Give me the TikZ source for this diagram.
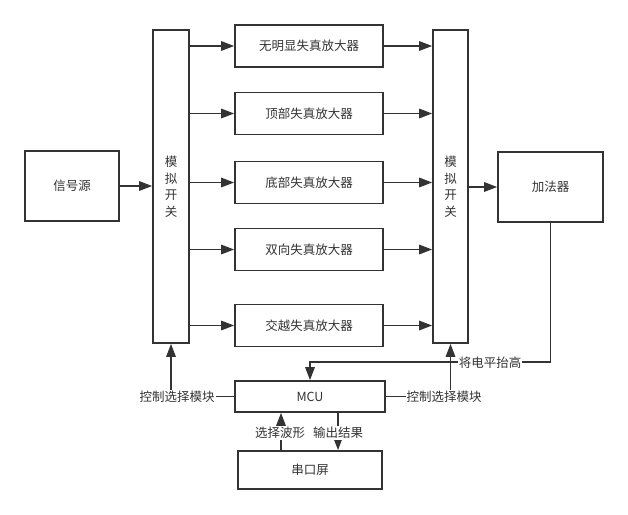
\documentclass[tikz,border=0pt]{standalone}
\usepackage{fontspec}
\setmainfont{Noto Sans CJK SC}
\usetikzlibrary{arrows.meta,calc}
\definecolor{ln}{HTML}{333333}
\begin{document}
\begin{tikzpicture}[x=1pt,y=-1pt,
  font=\fontsize{12.5pt}{16.5pt}\selectfont,
  box/.style={draw=ln,line width=1.7pt,text=ln,inner sep=0pt,anchor=center},
  arr/.style={draw=ln,line width=1.5pt,-{Triangle[length=13pt,width=9.5pt]}},
  lbl/.style={fill=white,text=ln,inner sep=1pt}]
\useasboundingbox (0,0) rectangle (628,514);
\node[box,minimum width=94pt,minimum height=70pt] (src) at (72,186) {信号源};
\node[box,minimum width=36pt,minimum height=313pt,align=center] (sw1) at (171,186.5) {模\\拟\\开\\关};
\node[box,minimum width=35pt,minimum height=313pt,align=center] (sw2) at (450.5,186.5) {模\\拟\\开\\关};
\node[box,minimum width=148pt,minimum height=42pt] (a1) at (309,46) {无明显失真放大器};
\node[box,minimum width=148pt,minimum height=42pt] (a2) at (309,113.5) {顶部失真放大器};
\node[box,minimum width=148pt,minimum height=42pt] (a3) at (309,182.5) {底部失真放大器};
\node[box,minimum width=148pt,minimum height=42pt] (a4) at (309,249.5) {双向失真放大器};
\node[box,minimum width=148pt,minimum height=42pt] (a5) at (309,325.5) {交越失真放大器};
\node[box,minimum width=105pt,minimum height=70pt] (add) at (550.5,187) {加法器};
\node[box,minimum width=150pt,minimum height=31pt] (mcu) at (310,396.5) {MCU};
\node[box,minimum width=144pt,minimum height=38pt] (scr) at (310,470) {串口屏};
\coordinate (bend) at (310,362);
\draw[arr] (src.east) -- (src.east -| sw1.west);
\foreach \i in {1,...,5}{
  \draw[arr] (a\i.west -| sw1.east) -- (a\i.west);
  \draw[arr] (a\i.east) -- (a\i.east -| sw2.west);
}
\draw[arr] (add.west -| sw2.east) -- (add.west);
\draw[arr] (add.south) |- (bend) -- (mcu.north);
\node[lbl] (l1) at (490,363) {将电平抬高};
\draw[arr] (mcu.west) -| (sw1.south);
\node[lbl] (l2) at (177,397) {控制选择模块};
\draw[arr] (mcu.east) -| (sw2.south);
\node[lbl] (l3) at (444,397) {控制选择模块};
\coordinate (p1) at (281,451);
\coordinate (p2) at (338,412);
\draw[arr] (p1) -- (p1 |- mcu.south);
\draw[arr] (p2) -- (p2 |- scr.north);
\node[lbl] (l4) at (280,433) {选择波形};
\node[lbl] (l5) at (338,433) {输出结果};
\end{tikzpicture}
\end{document}
